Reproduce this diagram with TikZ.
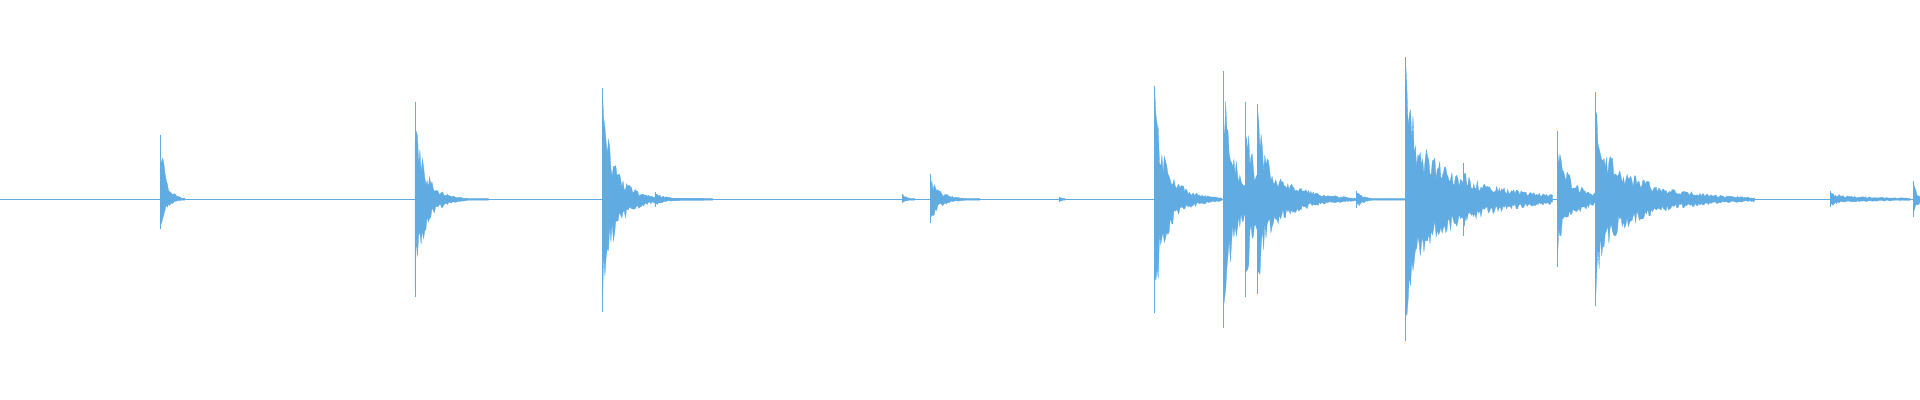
\documentclass[tikz,border=0pt]{standalone}
\begin{document}
\definecolor{wavec}{RGB}{96,172,226}
\begin{tikzpicture}[x=1.2245pt,y=1.2232pt,wave/.style={fill=wavec,draw=wavec,line width=0.3pt}]
\pgfmathsetseed{7}
\useasboundingbox (0,-164) rectangle (1568,163);
\coordinate (L) at (0,0);
\coordinate (R) at (1568,0);
\draw[wavec,line width=0.6pt] (L) -- (R);
\newcommand\burst[5]{%
  \pgfmathsetmacro\xe{#1+#5}%
  \pgfmathtruncatemacro\ns{#5+2}%
  \fill[wave] (#1,0) -- plot[domain=#1:\xe,samples=\ns] (\x,{max(0.6,#2*(0.5*exp(-(\x-#1)/5)+0.5*exp(-(\x-#1)/#4))*(0.45+0.55*rnd))})
     -- plot[domain=\xe:#1,samples=\ns] (\x,{-max(0.6,#3*(0.5*exp(-(\x-#1)/5)+0.5*exp(-(\x-#1)/#4))*(0.45+0.55*rnd))}) -- cycle;
  \draw[wavec,line width=0.8pt] (#1,#2) -- (#1,-#3);
}
\burst{131}{53}{24}{5}{20}
\burst{339}{80}{80}{12}{60}
\burst{492}{91}{92}{16}{90}
\burst{535}{6}{6}{15}{40}
\burst{737}{4}{3}{5}{10}
\burst{760}{21}{19}{12}{40}
\burst{865}{2}{2}{3}{5}
\burst{943}{93}{93}{16}{55}
\burst{999}{105}{105}{15}{30}
\burst{1017}{80}{80}{12}{15}
\burst{1027}{78}{77}{25}{90}
\burst{1108}{7}{7}{8}{40}
\burst{1148}{116}{116}{45}{120}
\burst{1195}{30}{30}{15}{40}
\burst{1272}{56}{55}{18}{40}
\burst{1303}{88}{87}{40}{130}
\burst{1495}{7}{6}{60}{65}
\burst{1563}{15}{14}{2}{5}
\end{tikzpicture}
\end{document}
